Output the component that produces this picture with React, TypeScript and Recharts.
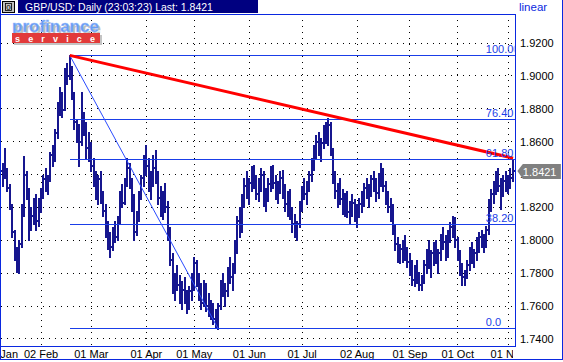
import React from 'react';
import { ComposedChart, Bar, XAxis, YAxis, CartesianGrid, ReferenceLine, ReferenceDot } from 'recharts';

const FONT = '"Liberation Sans", Arial, Helvetica, sans-serif';
const BAR_COLOR = '#16168f';
const FIB_BLUE = '#1a3ee8';
const BORDER_BLUE = '#0a28e0';

// GBP/USD daily bars, 09 Jan 2004 .. 03 Nov 2004 (index = trading day)
const opens = [
  1.8420, 1.8400, 1.8430, 1.8320, 1.8210, 1.8050, 1.7910, 1.7830, 1.7980, 1.8180,
  1.8400, 1.8300, 1.8080, 1.8150, 1.8230, 1.8120, 1.8220, 1.8290, 1.8370, 1.8330,
  1.8380, 1.8520, 1.8500, 1.8650, 1.8800, 1.8880, 1.8790, 1.9020, 1.9000, 1.9040,
  1.8890, 1.8720, 1.8650, 1.8600, 1.8760, 1.8680, 1.8560, 1.8520, 1.8450, 1.8360,
  1.8280, 1.8370, 1.8260, 1.8180, 1.8060, 1.7990, 1.7960, 1.8050, 1.8020, 1.8120,
  1.8270, 1.8230, 1.8360, 1.8440, 1.8350, 1.8220, 1.8050, 1.8150, 1.8270, 1.8380,
  1.8480, 1.8450, 1.8330, 1.8380, 1.8440, 1.8380, 1.8260, 1.8190, 1.8250, 1.8200,
  1.8040, 1.7880, 1.7720, 1.7760, 1.7730, 1.7660, 1.7700, 1.7650, 1.7610, 1.7690,
  1.7760, 1.7860, 1.7750, 1.7680, 1.7620, 1.7700, 1.7600, 1.7580, 1.7550, 1.7520,
  1.7510, 1.7600, 1.7720, 1.7700, 1.7690, 1.7800, 1.7780, 1.7840, 1.7960, 1.8120,
  1.8060, 1.8250, 1.8330, 1.8300, 1.8350, 1.8420, 1.8360, 1.8280, 1.8350, 1.8400,
  1.8250, 1.8280, 1.8340, 1.8420, 1.8350, 1.8300, 1.8330, 1.8380, 1.8290, 1.8220,
  1.8260, 1.8160, 1.8100, 1.8060, 1.8100, 1.8200, 1.8300, 1.8280, 1.8330, 1.8400,
  1.8470, 1.8550, 1.8600, 1.8560, 1.8590, 1.8680, 1.8620, 1.8700, 1.8550, 1.8380,
  1.8300, 1.8320, 1.8250, 1.8200, 1.8250, 1.8170, 1.8200, 1.8230, 1.8150, 1.8180,
  1.8220, 1.8260, 1.8320, 1.8290, 1.8310, 1.8370, 1.8340, 1.8290, 1.8380, 1.8400,
  1.8330, 1.8260, 1.8200, 1.8180, 1.8080, 1.7980, 1.7920, 1.7950, 1.7900, 1.7920,
  1.7870, 1.7820, 1.7760, 1.7800, 1.7770, 1.7730, 1.7760, 1.7850, 1.7900, 1.7860,
  1.7920, 1.7960, 1.7880, 1.7920, 1.8020, 1.7990, 1.7940, 1.8040, 1.8080, 1.8120,
  1.8000, 1.7920, 1.7810, 1.7780, 1.7800, 1.7850, 1.7930, 1.7880, 1.7920, 1.7990,
  1.8020, 1.8000, 1.7990, 1.8060, 1.8220, 1.8280, 1.8340, 1.8390, 1.8330, 1.8300,
  1.8360, 1.8340, 1.8360, 1.8380,
];

const highs = [
  1.8470, 1.8560, 1.8440, 1.8340, 1.8220, 1.8060, 1.7960, 1.8000, 1.8220, 1.8510,
  1.8420, 1.8320, 1.8200, 1.8260, 1.8280, 1.8260, 1.8320, 1.8400, 1.8440, 1.8400,
  1.8540, 1.8580, 1.8680, 1.8840, 1.8930, 1.8900, 1.9050, 1.9080, 1.9125, 1.9060,
  1.8900, 1.8740, 1.8710, 1.8900, 1.8780, 1.8720, 1.8660, 1.8600, 1.8500, 1.8420,
  1.8400, 1.8420, 1.8300, 1.8220, 1.8120, 1.8050, 1.8080, 1.8120, 1.8150, 1.8300,
  1.8340, 1.8380, 1.8500, 1.8470, 1.8380, 1.8280, 1.8180, 1.8300, 1.8400, 1.8520,
  1.8580, 1.8500, 1.8420, 1.8520, 1.8550, 1.8420, 1.8330, 1.8300, 1.8350, 1.8240,
  1.8080, 1.7920, 1.7800, 1.7850, 1.7790, 1.7750, 1.7780, 1.7700, 1.7720, 1.7800,
  1.7900, 1.7880, 1.7800, 1.7740, 1.7760, 1.7740, 1.7680, 1.7640, 1.7620, 1.7580,
  1.7620, 1.7760, 1.7800, 1.7740, 1.7840, 1.7900, 1.7860, 1.8000, 1.8150, 1.8200,
  1.8280, 1.8380, 1.8420, 1.8380, 1.8450, 1.8460, 1.8400, 1.8380, 1.8440, 1.8420,
  1.8320, 1.8380, 1.8450, 1.8460, 1.8400, 1.8360, 1.8420, 1.8430, 1.8340, 1.8300,
  1.8310, 1.8200, 1.8160, 1.8120, 1.8240, 1.8330, 1.8380, 1.8360, 1.8420, 1.8500,
  1.8580, 1.8640, 1.8660, 1.8620, 1.8700, 1.8720, 1.8745, 1.8720, 1.8560, 1.8420,
  1.8350, 1.8380, 1.8310, 1.8290, 1.8300, 1.8240, 1.8280, 1.8250, 1.8220, 1.8260,
  1.8300, 1.8350, 1.8380, 1.8340, 1.8400, 1.8420, 1.8380, 1.8410, 1.8470, 1.8440,
  1.8360, 1.8300, 1.8260, 1.8220, 1.8100, 1.8020, 1.7980, 1.8000, 1.8030, 1.7960,
  1.7920, 1.7880, 1.7850, 1.7880, 1.7810, 1.7790, 1.7880, 1.7950, 1.8000, 1.7940,
  1.7990, 1.8000, 1.7950, 1.8040, 1.8080, 1.8030, 1.8060, 1.8110, 1.8150, 1.8140,
  1.8020, 1.7940, 1.7860, 1.7820, 1.7880, 1.7960, 1.7990, 1.7950, 1.8020, 1.8050,
  1.8060, 1.8040, 1.8090, 1.8250, 1.8310, 1.8360, 1.8420, 1.8440, 1.8380, 1.8400,
  1.8420, 1.8400, 1.8440, 1.8490,
];

const lows = [
  1.8330, 1.8380, 1.8300, 1.8190, 1.8020, 1.7880, 1.7810, 1.7800, 1.7960, 1.8150,
  1.8250, 1.8000, 1.8060, 1.8100, 1.8060, 1.8090, 1.8170, 1.8260, 1.8300, 1.8280,
  1.8360, 1.8450, 1.8480, 1.8620, 1.8760, 1.8750, 1.8790, 1.8950, 1.8980, 1.8860,
  1.8680, 1.8600, 1.8450, 1.8580, 1.8640, 1.8500, 1.8480, 1.8420, 1.8330, 1.8250,
  1.8220, 1.8230, 1.8150, 1.8020, 1.7950, 1.7900, 1.7940, 1.7990, 1.8000, 1.8100,
  1.8200, 1.8220, 1.8330, 1.8320, 1.8180, 1.8000, 1.8030, 1.8120, 1.8250, 1.8330,
  1.8400, 1.8300, 1.8250, 1.8330, 1.8350, 1.8220, 1.8150, 1.8130, 1.8170, 1.8000,
  1.7850, 1.7680, 1.7640, 1.7700, 1.7620, 1.7580, 1.7620, 1.7560, 1.7580, 1.7640,
  1.7700, 1.7720, 1.7640, 1.7580, 1.7600, 1.7570, 1.7540, 1.7520, 1.7490, 1.7470,
  1.7461, 1.7580, 1.7660, 1.7600, 1.7660, 1.7740, 1.7700, 1.7800, 1.7920, 1.8020,
  1.8050, 1.8200, 1.8260, 1.8220, 1.8300, 1.8320, 1.8250, 1.8240, 1.8300, 1.8210,
  1.8180, 1.8240, 1.8300, 1.8320, 1.8250, 1.8230, 1.8290, 1.8260, 1.8180, 1.8150,
  1.8130, 1.8050, 1.8020, 1.8000, 1.8080, 1.8180, 1.8250, 1.8220, 1.8300, 1.8360,
  1.8430, 1.8500, 1.8520, 1.8480, 1.8560, 1.8590, 1.8580, 1.8520, 1.8350, 1.8260,
  1.8200, 1.8220, 1.8160, 1.8150, 1.8140, 1.8100, 1.8150, 1.8120, 1.8080, 1.8140,
  1.8170, 1.8210, 1.8260, 1.8200, 1.8270, 1.8300, 1.8240, 1.8260, 1.8330, 1.8300,
  1.8220, 1.8170, 1.8120, 1.8040, 1.7940, 1.7870, 1.7860, 1.7870, 1.7880, 1.7840,
  1.7790, 1.7730, 1.7720, 1.7740, 1.7700, 1.7700, 1.7740, 1.7800, 1.7830, 1.7780,
  1.7850, 1.7860, 1.7800, 1.7880, 1.7950, 1.7880, 1.7900, 1.7990, 1.8020, 1.7960,
  1.7880, 1.7790, 1.7730, 1.7730, 1.7770, 1.7820, 1.7860, 1.7840, 1.7880, 1.7930,
  1.7960, 1.7930, 1.7960, 1.8040, 1.8180, 1.8230, 1.8280, 1.8300, 1.8190, 1.8270,
  1.8300, 1.8290, 1.8320, 1.8360,
];

const closes = [
  1.8400, 1.8430, 1.8320, 1.8210, 1.8050, 1.7910, 1.7830, 1.7980, 1.8180, 1.8400,
  1.8300, 1.8080, 1.8150, 1.8230, 1.8120, 1.8220, 1.8290, 1.8370, 1.8330, 1.8380,
  1.8520, 1.8500, 1.8650, 1.8800, 1.8880, 1.8790, 1.9020, 1.9000, 1.9040, 1.8890,
  1.8720, 1.8650, 1.8600, 1.8760, 1.8680, 1.8560, 1.8520, 1.8450, 1.8360, 1.8280,
  1.8370, 1.8260, 1.8180, 1.8060, 1.7990, 1.7960, 1.8050, 1.8020, 1.8120, 1.8270,
  1.8230, 1.8360, 1.8440, 1.8350, 1.8220, 1.8050, 1.8150, 1.8270, 1.8380, 1.8480,
  1.8450, 1.8330, 1.8380, 1.8440, 1.8380, 1.8260, 1.8190, 1.8250, 1.8200, 1.8040,
  1.7880, 1.7720, 1.7760, 1.7730, 1.7660, 1.7700, 1.7650, 1.7610, 1.7690, 1.7760,
  1.7860, 1.7750, 1.7680, 1.7620, 1.7700, 1.7600, 1.7580, 1.7550, 1.7520, 1.7510,
  1.7600, 1.7720, 1.7700, 1.7690, 1.7800, 1.7780, 1.7840, 1.7960, 1.8120, 1.8060,
  1.8250, 1.8330, 1.8300, 1.8350, 1.8420, 1.8360, 1.8280, 1.8350, 1.8400, 1.8250,
  1.8280, 1.8340, 1.8420, 1.8350, 1.8300, 1.8330, 1.8380, 1.8290, 1.8220, 1.8260,
  1.8160, 1.8100, 1.8060, 1.8100, 1.8200, 1.8300, 1.8280, 1.8330, 1.8400, 1.8470,
  1.8550, 1.8600, 1.8560, 1.8590, 1.8680, 1.8620, 1.8700, 1.8550, 1.8380, 1.8300,
  1.8320, 1.8250, 1.8200, 1.8250, 1.8170, 1.8200, 1.8230, 1.8150, 1.8180, 1.8220,
  1.8260, 1.8320, 1.8290, 1.8310, 1.8370, 1.8340, 1.8290, 1.8380, 1.8400, 1.8330,
  1.8260, 1.8200, 1.8180, 1.8080, 1.7980, 1.7920, 1.7950, 1.7900, 1.7920, 1.7870,
  1.7820, 1.7760, 1.7800, 1.7770, 1.7730, 1.7760, 1.7850, 1.7900, 1.7860, 1.7920,
  1.7960, 1.7880, 1.7920, 1.8020, 1.7990, 1.7940, 1.8040, 1.8080, 1.8120, 1.8000,
  1.7920, 1.7810, 1.7780, 1.7800, 1.7850, 1.7930, 1.7880, 1.7920, 1.7990, 1.8020,
  1.8000, 1.7990, 1.8060, 1.8220, 1.8280, 1.8340, 1.8390, 1.8330, 1.8300, 1.8360,
  1.8340, 1.8360, 1.8380, 1.8421,
];

// month ticks (bar index of first trading day) and their labels
const monthTickIdx = [-0.5, 16, 37, 60, 80, 103, 125, 148, 170, 190, 211];
const monthTickLabels = ['01 Jan', '02 Feb', '01 Mar', '01 Apr', '01 May', '01 Jun', '01 Jul', '02 Aug', '01 Sep', '01 Oct', '01 Nov'];

const priceTicks = [1.74, 1.76, 1.78, 1.80, 1.82, 1.84, 1.86, 1.88, 1.90, 1.92];

// Fibonacci retracement between swing high and swing low
const swingHighIdx = 28;
const swingLowIdx = 90;
const fibPercents = [100, 76.4, 61.8, 38.2, 0];
const fibLabels = ['100.00', '76.40', '61.80', '38.20', '0.0'];

// trend line (red) end point
const trendEndIdx = 213.1;
const trendEndPrice = 1.85;

const lastIdx = 213;
const lastPrice = 1.8421;

const X_DOMAIN = [-0.71, 213.9];
const Y_DOMAIN = [1.73574, 1.93764];

const data = highs.map((h, i) => ({
  i,
  range: [lows[i], h],
  o: opens[i],
  h,
  l: lows[i],
  c: closes[i],
}));

const fibHigh = highs[swingHighIdx];
const fibLow = lows[swingLowIdx];
const fibLevels = fibPercents.map((p, k) => ({ label: fibLabels[k], value: fibLow + (p / 100) * (fibHigh - fibLow) }));

const OhlcShape = (props: any) => {
  const { x, y, width, height, payload } = props;
  if (x == null || y == null || !payload) return null;
  const top = Math.min(y, y + height);
  const bot = Math.max(y, y + height);
  const span = payload.h - payload.l;
  const py = (v: number) => (span === 0 ? top : top + ((payload.h - v) / span) * (bot - top));
  const cx = Math.round(x + width / 2);
  const yo = Math.round(py(payload.o));
  const yc = Math.round(py(payload.c));
  return (
    <g stroke={BAR_COLOR} shapeRendering="crispEdges">
      <line x1={cx} x2={cx} y1={Math.round(top)} y2={Math.round(bot) + 1} strokeWidth={2} />
      <line x1={cx - 3} x2={cx} y1={yo} y2={yo} strokeWidth={1.5} />
      <line x1={cx} x2={cx + 3} y1={yc} y2={yc} strokeWidth={1.5} />
    </g>
  );
};

const XTick = (props: any) => {
  const { x, y, payload } = props;
  const k = monthTickIdx.indexOf(payload.value);
  const label = k >= 0 ? monthTickLabels[k] : '';
  return (
    <svg x={0} y={y - 4} width={513} height={16} overflow="hidden">
      <text x={x} y={12} textAnchor="middle" fill="#000" fontSize={11} fontFamily={FONT}>
        {label}
      </text>
    </svg>
  );
};

const makeFibLabel = (text: string) => (props: any) => {
  const { cx, cy } = props;
  if (cx == null || cy == null) return <g />;
  return (
    <svg x={cx - 27} y={cy - 14} width={28.5} height={14} overflow="hidden">
      <text x={0} y={11.5} fill={FIB_BLUE} fontSize={11} fontFamily={FONT}>
        {text}
      </text>
    </svg>
  );
};

const LastTag = (props: any) => {
  const { cx, cy } = props;
  if (cx == null || cy == null) return <g />;
  const pts = [
    [cx + 4.5, cy],
    [cx + 10, cy - 7],
    [cx + 48, cy - 7],
    [cx + 48, cy + 8],
    [cx + 10, cy + 8],
  ]
    .map((p) => p.join(','))
    .join(' ');
  return (
    <g>
      <polygon points={pts} fill="#808080" />
      <text x={cx + 10} y={cy + 5} fill="#fff" fontSize={11} fontFamily={FONT}>
        {lastPrice.toFixed(4)}
      </text>
    </g>
  );
};

export default function App() {
  return (
    <div style={{ position: 'absolute', left: 0, top: 0, width: 563, height: 362, background: '#fff', overflow: 'hidden' }}>
      <ComposedChart width={563} height={362} data={data} margin={{ top: 14, right: 1, bottom: 2, left: 1 }}>
        <CartesianGrid
          stroke="#000"
          strokeDasharray="1 5"
          fill="none"
          verticalValues={monthTickIdx.slice(1)}
          shapeRendering="crispEdges"
        />
        <XAxis
          type="number"
          dataKey="i"
          domain={X_DOMAIN}
          ticks={monthTickIdx}
          interval={0}
          allowDataOverflow
          tickLine={false}
          axisLine={false}
          tickSize={0}
          tickMargin={4}
          height={14}
          tick={<XTick />}
        />
        <YAxis
          orientation="right"
          type="number"
          domain={Y_DOMAIN}
          ticks={priceTicks}
          interval={0}
          allowDataOverflow
          tickLine={false}
          axisLine={false}
          tickSize={0}
          tickMargin={5}
          width={47}
          tick={{ fill: '#000', fontSize: 11, fontFamily: FONT }}
          tickFormatter={(v: number) => v.toFixed(4)}
        />
        <Bar dataKey="range" barSize={3} shape={(p: any) => <OhlcShape {...p} />} isAnimationActive={false} />
        {fibLevels.map((f) => (
          <ReferenceLine
            key={f.label}
            segment={[
              { x: swingHighIdx, y: f.value },
              { x: X_DOMAIN[1], y: f.value },
            ]}
            stroke={FIB_BLUE}
            strokeWidth={1}
            shapeRendering="crispEdges"
          />
        ))}
        <ReferenceLine
          segment={[
            { x: swingHighIdx, y: fibHigh },
            { x: swingLowIdx, y: fibLow },
          ]}
          stroke="#2a4bff"
          strokeWidth={1}
        />
        <ReferenceLine
          segment={[
            { x: swingHighIdx, y: fibHigh },
            { x: trendEndIdx, y: trendEndPrice },
          ]}
          stroke="#ff0000"
          strokeWidth={3}
        />
        {fibLevels.map((f) => (
          <ReferenceDot key={'lbl' + f.label} x={lastIdx} y={f.value} r={0} shape={makeFibLabel(f.label)} />
        ))}
        <ReferenceDot x={lastIdx} y={lastPrice} r={0} shape={(p: any) => <LastTag {...p} />} zIndex={3000} />
      </ComposedChart>
      <svg width={563} height={362} style={{ position: 'absolute', left: 0, top: 0, pointerEvents: 'none' }}>
        {/* title bar */}
        <rect x={2.5} y={1.5} width={12} height={11} fill="#c0c0c0" stroke="#000" />
        <rect x={5.5} y={3.5} width={6} height={7} fill="none" stroke="#000" strokeWidth={0.8} />
        <text x={8.5} y={10} textAnchor="middle" fontSize={8} fontFamily={FONT} fill="#000">0</text>
        <rect x={18} y={0} width={240} height={13} fill="#000080" />
        <text x={25} y={11} fill="#fff" fontSize={10.5} fontFamily={FONT}>
          {`GBP/USD: Daily (23:03:23) Last: ${lastPrice.toFixed(4)}`}
        </text>
        <text x={519} y={11} fill={BORDER_BLUE} fontSize={11.5} fontFamily={FONT}>linear</text>
        {/* borders */}
        <g stroke={BORDER_BLUE} strokeWidth={1} fill="none" shapeRendering="crispEdges">
          <line x1={0.5} y1={0} x2={0.5} y2={360} />
          <line x1={0} y1={14.5} x2={516} y2={14.5} />
          <line x1={515.5} y1={14} x2={515.5} y2={347} />
          <line x1={0} y1={346.5} x2={516} y2={346.5} />
          <line x1={562.5} y1={0} x2={562.5} y2={360} />
          <line x1={0} y1={359.5} x2={563} y2={359.5} />
        </g>
        {/* logo */}
        <g fontFamily={FONT} fontWeight="bold">
          <text x={14} y={34} fontSize={17} fill="#bdbdbd">profinance</text>
          <text x={12} y={32} fontSize={17} fill="#6a9cf2" stroke="#9cc0ff" strokeWidth={0.4}>profinance</text>
          <rect x={14} y={35} width={88} height={10} fill="#c4c4c4" />
          <rect x={12} y={33} width={88} height={10} fill="#e23a3a" />
          <text x={15} y={41.5} fontSize={9} fill="#fff" textLength={80} lengthAdjust="spacing">service</text>
        </g>
      </svg>
    </div>
  );
}
